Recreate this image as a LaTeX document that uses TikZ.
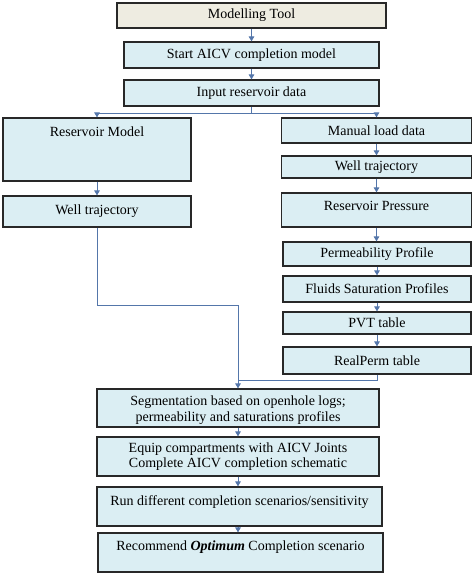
\documentclass[tikz,border=0pt]{standalone}
\usepackage{fontspec}
\setmainfont{Liberation Serif}
\usetikzlibrary{arrows.meta}
\definecolor{boxfill}{RGB}{219,238,243}
\definecolor{toolfill}{RGB}{238,236,225}
\definecolor{linecol}{RGB}{84,118,170}
\definecolor{edgecol}{RGB}{40,40,40}
\begin{document}
\begin{tikzpicture}[x=1pt,y=-1pt,
 box/.style={draw=edgecol, line width=1.2pt, fill=boxfill, inner sep=0pt, font=\fontsize{14}{15.5}\selectfont, align=center},
 conn/.style={draw=linecol, line width=1pt},
 arr/.style={conn, -{Triangle[length=5pt,width=5.5pt]}},
 lbl/.style={font=\fontsize{14}{15.5}\selectfont, inner sep=0pt, align=center}]
\useasboundingbox (0,0) rectangle (474,574);

\node[box, fill=toolfill, minimum width=269pt, minimum height=25pt] (tool) at (251.5,15.5) {Modelling Tool};
\node[box, minimum width=255pt, minimum height=26pt] (start) at (251.5,55) {Start AICV completion model};
\node[box, minimum width=255pt, minimum height=26pt] (input) at (251.5,93) {Input reservoir data};

\node[box, minimum width=188pt, minimum height=63pt] (resm) at (97,149.5) {};
\node[lbl] (resmt) at (97,132) {Reservoir Model};
\node[box, minimum width=188pt, minimum height=31pt] (wtl) at (97,211.5) {Well trajectory};

\node[box, minimum width=190pt, minimum height=25pt] (manual) at (376.5,130.5) {Manual load data};
\node[box, minimum width=190pt, minimum height=22pt] (wtr) at (376.5,167) {Well trajectory};
\node[box, minimum width=190pt, minimum height=34pt] (resp) at (376.5,210) {};
\node[lbl] (respt) at (376.5,206) {Reservoir Pressure};
\node[box, minimum width=188pt, minimum height=24pt] (perm) at (377,254) {Permeability Profile};
\node[box, minimum width=188pt, minimum height=26pt] (fluid) at (377,289) {Fluids Saturation Profiles};
\node[box, minimum width=188pt, minimum height=22pt] (pvt) at (377,323) {PVT table};
\node[box, minimum width=188pt, minimum height=27pt] (relp) at (377,360.5) {RealPerm table};

\node[box, minimum width=282pt, minimum height=38pt] (seg) at (238,408) {};
\node[lbl] (segt) at (238,410) {Segmentation based on openhole logs;\\permeability and saturations profiles};
\node[box, minimum width=282pt, minimum height=39pt] (equip) at (238,456.5) {Equip compartments with AICV Joints\\Complete AICV completion schematic};
\node[box, minimum width=285pt, minimum height=39pt] (run) at (239.5,506.5) {};
\node[lbl] (runt) at (239.5,502) {Run different completion scenarios/sensitivity};
\node[box, minimum width=285pt, minimum height=39pt] (rec) at (240.5,552.5) {};
\node[lbl] (rect) at (240.5,547) {Recommend \textbf{\textit{Optimum}} Completion scenario};

\draw[arr] (tool) -- (start);
\draw[arr] (start) -- (input);
\coordinate (br) at (251.5,113);
\draw[conn] (input.south) -- (br);
\draw[arr] (br) -| (resm.north);
\draw[arr] (br) -| (manual.north);
\draw[arr] (resm.south) -- (wtl.north);
\draw[arr] (manual.south) -- (wtr.north);
\draw[arr] (wtr.south) -- (resp.north);
\draw[arr] (resp.south) -- (resp.south |- perm.north);
\draw[arr] (perm.south) -- (fluid.north);
\draw[arr] (fluid.south) -- (pvt.north);
\draw[arr] (pvt.south) -- (relp.north);

\coordinate (j1) at (97,305);
\coordinate (j2) at (238,305);
\coordinate (j3) at (238,380);
\draw[arr] (wtl.south) -- (j1) -- (j2) -- (seg.north);
\draw[conn] (relp.south) |- (j3);

\draw[arr] (seg.south) -- (equip.north);
\draw[arr] (equip.south) -- (equip.south |- run.north);
\draw[arr] (equip.south |- run.south) -- (equip.south |- rec.north);
\end{tikzpicture}
\end{document}
